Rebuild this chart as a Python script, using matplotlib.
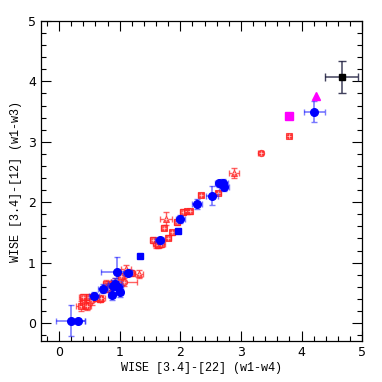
import matplotlib
matplotlib.use("Agg")
import matplotlib.pyplot as plt
from matplotlib.ticker import MultipleLocator

# blue circles: w1-w4, w1-w3, errors
blue_x = [0.19, 0.32, 0.58, 0.73, 0.87, 0.89, 0.92, 0.95, 0.97, 1.00, 1.13,
          1.66, 2.00, 2.28, 2.53, 2.64, 2.70, 2.72, 4.21]
blue_y = [0.04, 0.04, 0.45, 0.57, 0.46, 0.62, 0.65, 0.84, 0.60, 0.51, 0.82,
          1.37, 1.72, 1.97, 2.11, 2.31, 2.31, 2.26, 3.50]
blue_xerr = [0.24, 0.10, 0.08, 0.08, 0.06, 0.10, 0.12, 0.25, 0.08, 0.06, 0.08,
             0.07, 0.07, 0.08, 0.10, 0.06, 0.08, 0.08, 0.17]
blue_yerr = [0.25, 0.02, 0.06, 0.08, 0.08, 0.10, 0.10, 0.26, 0.10, 0.08, 0.04,
             0.06, 0.06, 0.08, 0.16, 0.05, 0.08, 0.08, 0.18]

# blue squares
bsq_x = [1.34, 1.96]
bsq_y = [1.11, 1.53]

# red points (mixed markers)
red_x = [0.36, 0.39, 0.42, 0.46, 0.39, 0.50, 0.55, 0.61, 0.67, 0.70, 0.78, 0.83,
         0.81, 0.92, 1.03, 1.11, 1.19, 1.32, 1.07, 1.55, 1.60, 1.64, 1.69, 1.73,
         1.76, 1.80, 1.87, 1.94, 2.05, 2.11, 2.16, 2.34, 2.63, 2.89, 3.33, 3.80]
red_y = [0.28, 0.35, 0.29, 0.28, 0.43, 0.43, 0.38, 0.41, 0.39, 0.41, 0.65, 0.62,
         0.57, 0.68, 0.77, 0.90, 0.82, 0.81, 0.68, 1.38, 1.30, 1.29, 1.31, 1.58,
         1.73, 1.41, 1.50, 1.67, 1.84, 1.85, 1.85, 2.12, 2.16, 2.48, 2.82, 3.10]
red_xerr = [0.08, 0.05, 0.06, 0.06, 0.06, 0.05, 0.12, 0.05, 0.05, 0.06, 0.06, 0.08,
            0.06, 0.06, 0.06, 0.08, 0.06, 0.06, 0.22, 0.05, 0.05, 0.06, 0.06, 0.04,
            0.10, 0.04, 0.04, 0.05, 0.05, 0.04, 0.04, 0.04, 0.04, 0.08, 0.04, 0.03]
red_yerr = [0.08, 0.06, 0.06, 0.06, 0.05, 0.05, 0.08, 0.05, 0.05, 0.05, 0.06, 0.08,
            0.06, 0.06, 0.06, 0.06, 0.05, 0.06, 0.06, 0.05, 0.05, 0.05, 0.05, 0.04,
            0.10, 0.04, 0.04, 0.05, 0.05, 0.04, 0.04, 0.03, 0.03, 0.08, 0.03, 0.02]
red_mk = ['s', 's', 's', 's', 's', 's', 'o', 's', 's', '^', 's', 's',
          's', '^', 's', '^', 's', '^', 'o', 's', 'o', 's', 's', 's',
          '^', 's', 's', 's', 's', 's', 's', 's', 's', '^', 'o', 's']

# single objects
black_x, black_y, black_xerr, black_yerr = 4.66, 4.07, 0.27, 0.27
mag_sq = (3.79, 3.42)
mag_tri = (4.24, 3.76)

fig = plt.figure(figsize=(3.82, 3.82), dpi=100)
ax = fig.add_axes([0.107, 0.107, 0.841, 0.838])

# red
ax.errorbar(red_x, red_y, xerr=red_xerr, yerr=red_yerr, fmt='none',
            ecolor='#ff2020', elinewidth=1.0, capsize=2, alpha=0.7, zorder=2)
for x, y, m in zip(red_x, red_y, red_mk):
    ax.plot(x, y, marker=m, ms=4.5, mfc='#ff3030', mec='#ff2020', mew=0.8,
            alpha=0.75, ls='none', zorder=3)
    ax.plot(x, y, marker='+', ms=2.5, mec='#ffd0d0', mew=0.5, ls='none', zorder=3)

# blue
ax.errorbar(blue_x, blue_y, xerr=blue_xerr, yerr=blue_yerr, fmt='none',
            ecolor='#2020ff', elinewidth=1.2, capsize=2.5, alpha=0.6, zorder=4)
ax.plot(blue_x, blue_y, 'o', ms=5.5, color='#0000ff', zorder=5)
ax.plot(bsq_x, bsq_y, 's', ms=5, color='#0000ff', zorder=5)

# black
ax.errorbar([black_x], [black_y], xerr=[black_xerr], yerr=[black_yerr], fmt='none',
            ecolor='#202040', elinewidth=1.1, capsize=3, alpha=0.85, zorder=4)
ax.plot([black_x], [black_y], 's', ms=5, color='black', zorder=5)

# magenta
ax.plot([mag_sq[0]], [mag_sq[1]], 's', ms=5.5, color='#ff00ff', zorder=5)
ax.plot([mag_tri[0]], [mag_tri[1]], '^', ms=5.5, color='#ff00ff', zorder=5)

ax.set_xlim(-0.3, 5)
ax.set_ylim(-0.3, 5)
ax.xaxis.set_major_locator(MultipleLocator(1))
ax.yaxis.set_major_locator(MultipleLocator(1))
ax.xaxis.set_minor_locator(MultipleLocator(0.2))
ax.yaxis.set_minor_locator(MultipleLocator(0.2))
ax.tick_params(which='both', direction='in', top=True, right=True, width=0.8)
ax.tick_params(which='major', length=7, labelsize=9)
ax.tick_params(which='minor', length=3.5)
for s in ax.spines.values():
    s.set_linewidth(0.9)

ax.set_xlabel("WISE [3.4]-[22] (w1-w4)", family='Liberation Mono', fontsize=8.5, labelpad=2)
ax.set_ylabel("WISE [3.4]-[12] (w1-w3)", family='Liberation Mono', fontsize=8.5, labelpad=4)

fig.savefig("out.png", dpi=100)
